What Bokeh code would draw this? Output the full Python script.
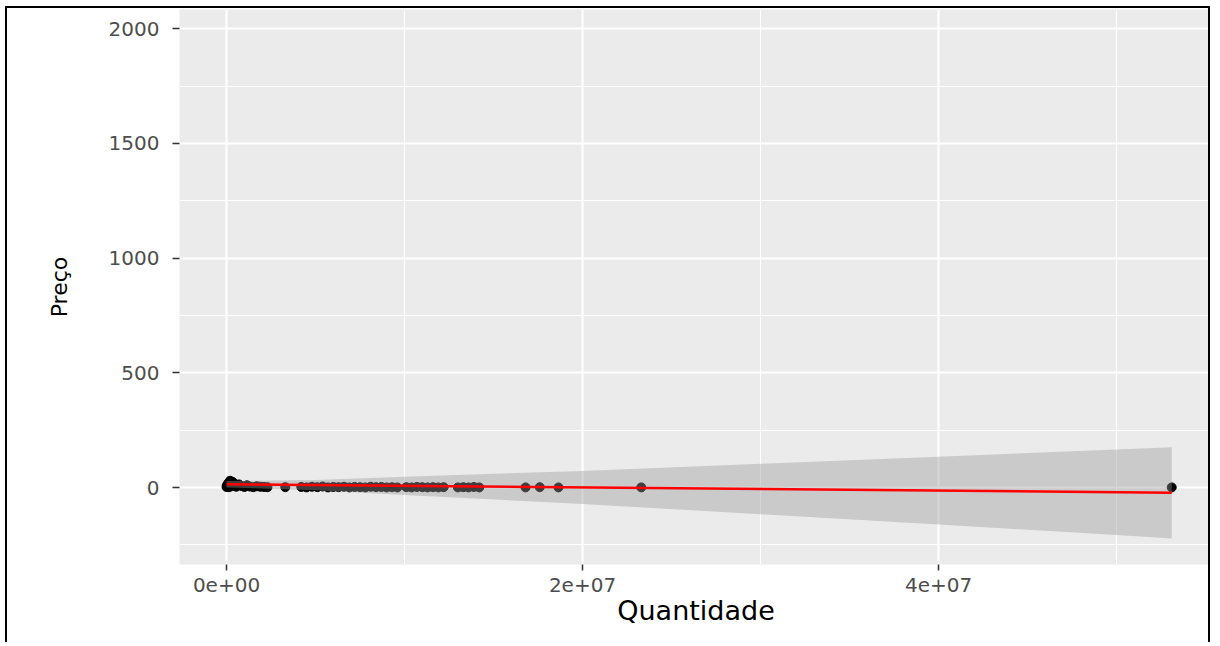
from bokeh.plotting import figure
from bokeh.models import FixedTicker, Range1d
from bokeh.embed import file_html
from bokeh.resources import INLINE

# ---- data ----
quantidade = [5e3, 2e4, 4e4, 7e4, 1.0e5, 1.4e5, 2.0e5, 2.8e5, 3.5e5, 4.5e5, 5.5e5,
              7.0e5, 8.5e5, 1.0e6, 1.15e6, 1.3e6, 1.5e6, 1.7e6, 1.9e6, 2.1e6, 2.3e6,
              3.3e6,
              4.2e6, 4.5e6, 4.8e6, 5.1e6, 5.4e6, 5.7e6, 6.0e6, 6.3e6, 6.6e6, 6.9e6,
              7.2e6, 7.5e6, 7.8e6, 8.1e6, 8.4e6, 8.7e6, 9.0e6, 9.3e6, 9.6e6,
              1.01e7, 1.04e7, 1.07e7, 1.10e7, 1.13e7, 1.16e7, 1.19e7, 1.22e7,
              1.30e7, 1.33e7, 1.36e7, 1.39e7, 1.42e7,
              1.68e7, 1.76e7, 1.865e7, 2.33e7, 5.31e7]
preco = [3, 8, 12, 5, 20, 2, 30, 6, 25, 9, 4,
         14, 7, 3, 10, 5, 2, 6, 4, 3, 2,
         2,
         3, 1, 4, 2, 5, 1, 3, 2, 4, 1,
         3, 2, 1, 4, 2, 3, 1, 2, 1,
         2, 1, 3, 2, 1, 2, 1, 2,
         1, 2, 1, 3, 1,
         1, 2, 1, 1, 1]

fit_x = [0, 5.31e7]
fit_y = [15, -22]

band_x = [0, 5e6, 1e7, 2e7, 3e7, 4e7, 5e7, 5.31e7]
band_upper = [29, 33, 48, 73, 104, 135, 166, 176]
band_lower = [1, -11, -32, -71, -116, -161, -206, -222]

x_ticks = [0, 2e7, 4e7]
x_tick_labels = ["0e+00", "2e+07", "4e+07"]
x_minor = [1e7, 3e7, 5e7]
y_ticks = [0, 500, 1000, 1500, 2000]
y_minor = [-250, 250, 750, 1250, 1750]

FONT = "DejaVu Sans"

p = figure(width=1205, height=636, output_backend="svg", toolbar_location=None,
           x_range=Range1d(-2.64e6, 5.539e7), y_range=Range1d(-335, 2084),
           min_border_left=172, min_border_right=0, min_border_top=1,
           min_border_bottom=80)
p.styles = {"margin-left": "5px", "margin-top": "6px",
            "border-left": "2px solid black", "border-top": "2px solid black",
            "border-right": "2px solid black"}

p.background_fill_color = "#EBEBEB"
p.border_fill_color = "white"
p.outline_line_color = None

# axes
p.xaxis.ticker = FixedTicker(ticks=x_ticks, minor_ticks=x_minor)
p.yaxis.ticker = FixedTicker(ticks=y_ticks, minor_ticks=y_minor)
p.xaxis.major_label_overrides = {float(t): l for t, l in zip(x_ticks, x_tick_labels)}
p.yaxis.major_label_overrides = {float(t): str(t) for t in y_ticks}

for ax in (p.xaxis, p.yaxis):
    ax.axis_line_color = None
    ax.minor_tick_line_color = None
    ax.major_tick_line_color = "#333333"
    ax.major_tick_line_width = 1.5
    ax.major_tick_in = 0
    ax.major_label_text_font = FONT
    ax.major_label_text_font_size = "20px"
    ax.major_label_text_color = "#4D4D4D"
    ax.axis_label_text_font = FONT
    ax.axis_label_text_font_style = "normal"
    ax.axis_label_text_color = "black"

p.xaxis.major_tick_out = 6
p.xaxis.major_label_standoff = 7
p.xaxis.axis_label = "Quantidade"
p.xaxis.axis_label_text_font_size = "27px"
p.xaxis.axis_label_standoff = 0

p.yaxis.major_tick_out = 7
p.yaxis.major_label_standoff = 13
p.yaxis.axis_label = "Preço"
p.yaxis.axis_label_text_font_size = "22px"
p.yaxis.axis_label_standoff = 34

# grids
for g in (p.xgrid, p.ygrid):
    g.grid_line_color = "white"
    g.grid_line_width = 2
    g.minor_grid_line_color = "white"
    g.minor_grid_line_width = 1
p.xgrid.ticker = p.xaxis.ticker
p.ygrid.ticker = p.yaxis.ticker

# glyphs
p.scatter(quantidade, preco, size=9, color="black")
p.varea(x=band_x, y1=band_lower, y2=band_upper, fill_color="#999999", fill_alpha=0.4)
p.line(fit_x, fit_y, line_color="red", line_width=2.5)

open("out.html", "w").write(file_html(p, INLINE))
